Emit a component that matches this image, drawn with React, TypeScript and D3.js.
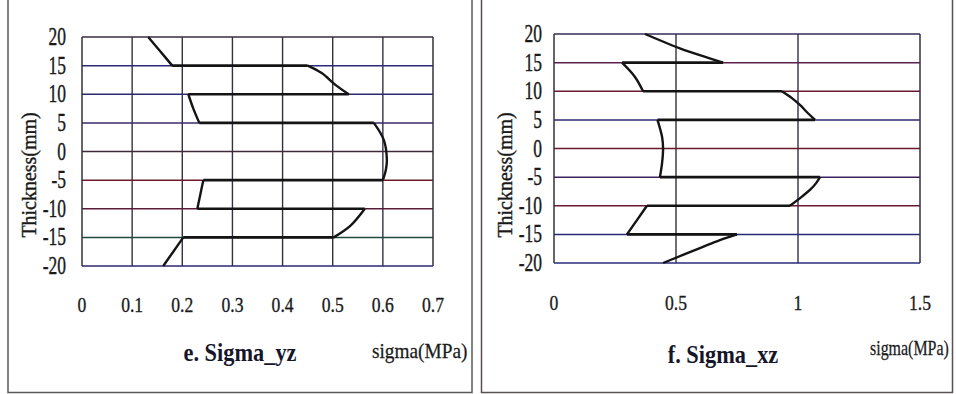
import React from "react";
import * as d3 from "d3";

// ---- Data ----
const thicknessTicks = [20, 15, 10, 5, 0, -5, -10, -15, -20];
const yzTicks = [0, 0.1, 0.2, 0.3, 0.4, 0.5, 0.6, 0.7];
const xzTicks = [0, 0.5, 1, 1.5];

// sigma_yz through thickness, per layer: [sigma, z]
const sigmaYZ: [number, number][][] = [
  [[0.132, 20], [0.156, 17.5], [0.18, 15]],
  [[0.45, 15], [0.478, 13.7], [0.506, 11.6], [0.532, 10]],
  [[0.212, 10], [0.222, 7.5], [0.234, 5]],
  [[0.582, 5], [0.602, 2], [0.608, -1.5], [0.606, -3.2], [0.6, -5]],
  [[0.242, -5], [0.236, -7.5], [0.23, -10]],
  [[0.564, -10], [0.535, -13], [0.502, -15]],
  [[0.202, -15], [0.182, -17.5], [0.162, -20]],
];

// sigma_xz through thickness, per layer: [sigma, z]
const sigmaXZ: [number, number][][] = [
  [[0.373, 20], [0.516, 17.5], [0.62, 16], [0.693, 15]],
  [[0.279, 15], [0.332, 12.5], [0.365, 10]],
  [[0.934, 10], [0.975, 8.8], [1.008, 7.6], [1.04, 6.2], [1.07, 5]],
  [[0.424, 5], [0.443, 2], [0.447, 0], [0.443, -2.5], [0.434, -5]],
  [[1.09, -5], [1.075, -6], [1.05, -7.2], [1.016, -8.4], [0.967, -10]],
  [[0.381, -10], [0.34, -12.5], [0.299, -15]],
  [[0.75, -15], [0.68, -16], [0.598, -17.4], [0.447, -20]],
];

const leftHColors = ["#3a3040", "#2b2a78", "#2a2a6e", "#3a2a6a", "#402a3a", "#6a1a2a", "#5a1a3a", "#1f4a3e", "#2a2a70"];
const rightHColors = ["#3a2a5a", "#5a2050", "#6a1a30", "#2a2a78", "#6a1a2a", "#3a2060", "#6a1a30", "#2a2a78", "#2a2a78"];

const FONT = "'Liberation Serif', 'DejaVu Serif', serif";

function Txt(props: {
  x: number; y: number; s: string; size: number; sx?: number; anchor?: string;
  bold?: boolean; rotate?: number; fill?: string; heavy?: number;
}) {
  const { x, y, s, size, sx = 1, anchor = "middle", bold, rotate = 0, fill = "#1a1a1a", heavy = 0 } = props;
  return (
    <text
      transform={`translate(${x},${y}) rotate(${rotate}) scale(${sx},1)`}
      textAnchor={anchor as any}
      fontFamily={FONT}
      fontSize={size}
      fontWeight={bold ? "bold" : "normal"}
      fill={fill}
      stroke={heavy ? fill : "none"}
      strokeWidth={heavy}
    >
      {s}
    </text>
  );
}

function Panel(props: {
  layers: [number, number][][];
  xTicks: number[];
  xDomain: [number, number];
  xRange: [number, number];
  yRange: [number, number];
  vGrid: number[];
  hColors: string[];
  tickFmt: (v: number) => string;
  yLabelX: number;
  yTickX: number;
  xTickY: number;
  title: string;
  titleX: number;
  titleY: number;
  unitX: number;
  unitY: number;
  unitSx: number;
}) {
  const p = props;
  const x = d3.scaleLinear().domain(p.xDomain).range(p.xRange);
  const y = d3.scaleLinear().domain([-20, 20]).range(p.yRange);
  const curve = d3
    .line<[number, number]>()
    .x((d) => x(d[0]))
    .y((d) => y(d[1]))
    .curve(d3.curveCatmullRom.alpha(0.5));
  const [x0, x1] = p.xRange;
  const [yb, yt] = p.yRange;
  return (
    <g>
      {p.vGrid.map((v, i) => (
        <line key={"v" + i} x1={x(v)} x2={x(v)} y1={yt} y2={yb} stroke="#35303f" strokeWidth={1.4} />
      ))}
      {thicknessTicks.map((t, i) => (
        <line key={"h" + i} x1={x0} x2={x1} y1={y(t)} y2={y(t)} stroke={p.hColors[i]} strokeWidth={1.5} />
      ))}
      <line x1={x0} x2={x0} y1={yt} y2={yb} stroke="#35303f" strokeWidth={1.5} />
      <line x1={x1} x2={x1} y1={yt} y2={yb} stroke="#35303f" strokeWidth={1.5} />
      {p.layers.map((L, i) => (
        <path key={"c" + i} d={curve(L) || ""} fill="none" stroke="#141414" strokeWidth={2.4} strokeLinejoin="round" />
      ))}
      {p.layers.slice(0, -1).map((L, i) => {
        const a = L[L.length - 1];
        const b = p.layers[i + 1][0];
        return (
          <line key={"k" + i} x1={x(a[0])} x2={x(b[0])} y1={y(a[1])} y2={y(b[1])} stroke="#141414" strokeWidth={2.7} />
        );
      })}
      {thicknessTicks.map((t) => (
        <Txt key={"yt" + t} x={p.yTickX} y={y(t) + 8} s={String(t)} size={25} sx={0.7} anchor="end" heavy={0.4} />
      ))}
      {p.xTicks.map((v) => (
        <Txt key={"xt" + v} x={x(v)} y={p.xTickY} s={p.tickFmt(v)} size={22} sx={0.8} heavy={0.35} />
      ))}
      <Txt x={p.yLabelX} y={175} s="Thickness(mm)" size={21} sx={0.95} rotate={-90} heavy={0.4} />
      <Txt x={p.titleX} y={p.titleY} s={p.title} size={26} sx={0.86} bold fill="#16162a" />
      <Txt x={p.unitX} y={p.unitY} s="sigma(MPa)" size={21} sx={p.unitSx} anchor="start" heavy={0.25} />
    </g>
  );
}

export default function App() {
  return (
    <svg
      width={956}
      height={394}
      style={{ position: "absolute", left: 0, top: 0, background: "#ffffff" }}
    >
      <rect x={0} y={0} width={956} height={394} fill="#ffffff" />
      <rect x={8} y={-4} width={464} height={396.5} fill="none" stroke="#5a5a5a" strokeWidth={1.5} />
      <rect x={481.5} y={-4} width={471} height={396.5} fill="none" stroke="#5a5050" strokeWidth={1.5} />

      <Panel
        layers={sigmaYZ}
        xTicks={yzTicks}
        xDomain={[0, 0.7]}
        xRange={[82, 433]}
        yRange={[266, 37]}
        vGrid={yzTicks.slice(1, -1)}
        hColors={leftHColors}
        tickFmt={(v) => (v === 0 ? "0" : d3.format(".1f")(v))}
        yLabelX={36}
        yTickX={66}
        xTickY={312}
        title="e. Sigma_yz"
        titleX={240}
        titleY={361}
        unitX={372}
        unitY={358}
        unitSx={0.92}
      />
      <Panel
        layers={sigmaXZ}
        xTicks={xzTicks}
        xDomain={[0, 1.5]}
        xRange={[554, 920]}
        yRange={[263, 34]}
        vGrid={xzTicks.slice(1, -1)}
        hColors={rightHColors}
        tickFmt={(v) => String(v)}
        yLabelX={512}
        yTickX={542}
        xTickY={310}
        title="f. Sigma_xz"
        titleX={723}
        titleY={363}
        unitX={870}
        unitY={355}
        unitSx={0.76}
      />
    </svg>
  );
}
